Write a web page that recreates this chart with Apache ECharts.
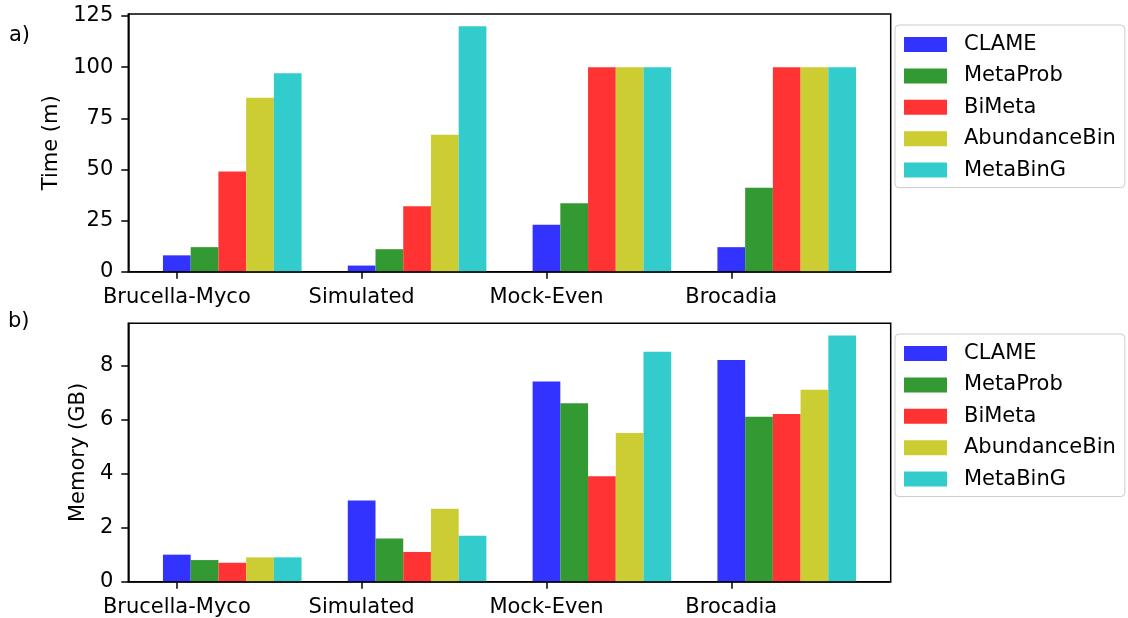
<!DOCTYPE html>
<html>
<head>
<meta charset="utf-8">
<title>Time and memory per method</title>
<script src="https://cdn.jsdelivr.net/npm/echarts@6/dist/echarts.min.js"></script>
<style>
  html, body { margin: 0; padding: 0; background: #fff; }
  #chart { width: 1128px; height: 618px; }
</style>
</head>
<body>
<div id="chart"></div>
<script>
// Datasets along the x axis
const datasets = ['Brucella-Myco', 'Simulated', 'Mock-Even', 'Brocadia'];
// Binning methods, one bar per dataset each
const methods = ['CLAME', 'MetaProb', 'BiMeta', 'AbundanceBin', 'MetaBinG'];
const methodColors = ['#3333ff', '#339933', '#ff3333', '#cccc33', '#33cccc'];

// Run time in minutes, per method, ordered as datasets
const timeCLAME        = [8, 3, 23, 12];
const timeMetaProb     = [12, 11, 33.5, 41];
const timeBiMeta       = [49, 32, 100, 100];
const timeAbundanceBin = [85, 67, 100, 100];
const timeMetaBinG     = [97, 120, 100, 100];

// Peak memory in GB, per method, ordered as datasets
const memCLAME        = [1.0, 3.0, 7.4, 8.2];
const memMetaProb     = [0.8, 1.6, 6.6, 6.1];
const memBiMeta       = [0.7, 1.1, 3.9, 6.2];
const memAbundanceBin = [0.9, 2.7, 5.5, 7.1];
const memMetaBinG     = [0.9, 1.7, 8.5, 9.1];

// Tick labels
const timeTicks = [0, 25, 50, 75, 100, 125];
const memTicks  = [0, 2, 4, 6, 8];

const timeSeries = [timeCLAME, timeMetaProb, timeBiMeta, timeAbundanceBin, timeMetaBinG];
const memSeries  = [memCLAME, memMetaProb, memBiMeta, memAbundanceBin, memMetaBinG];

// Bar width in x-axis units; bars of a group sit side by side starting at the dataset tick
const BAR_W = 0.15;
const X_MIN = -BAR_W / 2 - 0.1875;
const X_MAX = (datasets.length - 1) + (methods.length - 1) * BAR_W + BAR_W / 2 + 0.1875;

const FONT = 'DejaVu Sans';
const FS = 21;

function renderBar(params, api) {
  const x = api.value(0);
  const v = api.value(1);
  const topLeft = api.coord([x - BAR_W / 2, v]);
  const bottomRight = api.coord([x + BAR_W / 2, 0]);
  return {
    type: 'rect',
    shape: {
      x: topLeft[0],
      y: topLeft[1],
      width: bottomRight[0] - topLeft[0],
      height: bottomRight[1] - topLeft[1]
    },
    style: { fill: api.visual('color') }
  };
}

function barSeries(values, k, axisIdx) {
  return {
    type: 'custom',
    name: methods[k],
    xAxisIndex: axisIdx,
    yAxisIndex: axisIdx,
    itemStyle: { color: methodColors[k] },
    renderItem: renderBar,
    encode: { x: 0, y: 1 },
    data: values.map((v, i) => [i + k * BAR_W, v])
  };
}

function xAxis(gridIndex) {
  return {
    type: 'value',
    gridIndex,
    min: X_MIN,
    max: X_MAX,
    z: 5,
    splitLine: { show: false },
    axisLine: { show: true, onZero: false, lineStyle: { color: '#000', width: 1.5 } },
    axisTick: {
      show: true,
      length: 7,
      customValues: datasets.map((d, i) => i),
      lineStyle: { color: '#000', width: 1.5 }
    },
    axisLabel: {
      customValues: datasets.map((d, i) => i),
      formatter: v => datasets[Math.round(v)],
      margin: 15,
      color: '#000',
      fontFamily: FONT,
      fontSize: FS
    }
  };
}

function yAxis(gridIndex, max, ticks, name, nameGap) {
  return {
    type: 'value',
    gridIndex,
    min: 0,
    max,
    z: 5,
    name,
    nameLocation: 'middle',
    nameRotate: 90,
    nameGap,
    nameTextStyle: { color: '#000', fontFamily: FONT, fontSize: FS },
    splitLine: { show: false },
    axisLine: { show: true, onZero: false, lineStyle: { color: '#000', width: 1.5 } },
    axisTick: {
      show: true,
      length: 7,
      customValues: ticks,
      lineStyle: { color: '#000', width: 1.5 }
    },
    axisLabel: {
      customValues: ticks,
      margin: 15,
      color: '#000',
      fontFamily: FONT,
      fontSize: FS
    }
  };
}

function legend(top) {
  return {
    orient: 'vertical',
    left: 895,
    top,
    data: methods,
    icon: 'rect',
    itemWidth: 43,
    itemHeight: 15,
    itemGap: 10.4,
    padding: [9, 9, 7, 9],
    backgroundColor: '#fff',
    borderColor: '#cccccc',
    borderWidth: 1,
    borderRadius: 4,
    selectedMode: false,
    textStyle: {
      color: '#000',
      fontFamily: FONT,
      fontSize: FS,
      padding: [0, 0, 0, 12]
    }
  };
}

const chart = echarts.init(document.getElementById('chart'), null, { renderer: 'canvas' });

chart.setOption({
  animation: false,
  backgroundColor: '#fff',
  textStyle: { fontFamily: FONT },
  grid: [
    { left: 128.3, top: 14, width: 762.4, height: 257.7, show: true, borderColor: '#000', borderWidth: 1.5, backgroundColor: 'transparent' },
    { left: 128.3, top: 323.3, width: 762.4, height: 258.4, show: true, borderColor: '#000', borderWidth: 1.5, backgroundColor: 'transparent' }
  ],
  xAxis: [xAxis(0), xAxis(1)],
  yAxis: [
    yAxis(0, 126, timeTicks, 'Time (m)', 62),
    yAxis(1, 9.555, memTicks, 'Memory (GB)', 33)
  ],
  legend: [legend(25), legend(334)],
  graphic: [
    { type: 'text', left: 9, top: 25, style: { text: 'a)', fill: '#000', font: FS + 'px "' + FONT + '"' } },
    { type: 'text', left: 8, top: 311, style: { text: 'b)', fill: '#000', font: FS + 'px "' + FONT + '"' } }
  ],
  series: [
    ...timeSeries.map((vals, k) => barSeries(vals, k, 0)),
    ...memSeries.map((vals, k) => barSeries(vals, k, 1))
  ]
});
</script>
</body>
</html>
